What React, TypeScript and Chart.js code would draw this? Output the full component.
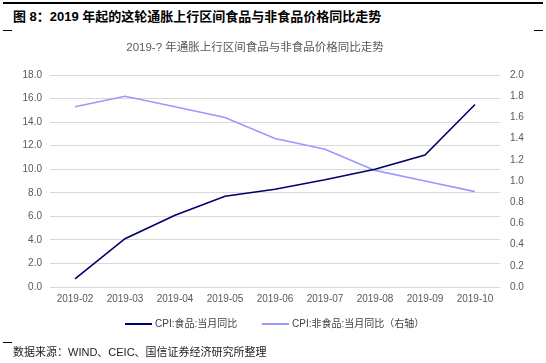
import React, { useEffect, useRef } from "react";
import { Chart, registerables } from "chart.js";

Chart.register(...registerables);

const categories = ["2019-02", "2019-03", "2019-04", "2019-05", "2019-06", "2019-07", "2019-08", "2019-09", "2019-10"];
const foodYoY = [0.7, 4.1, 6.1, 7.7, 8.3, 9.1, 10.0, 11.2, 15.5];
const nonFoodYoY = [1.7, 1.8, 1.7, 1.6, 1.4, 1.3, 1.1, 1.0, 0.9];
const foodLabel = "CPI:食品:当月同比";
const nonFoodLabel = "CPI:非食品:当月同比（右轴）";
const figureTitle = "图 8：2019 年起的这轮通胀上行区间食品与非食品价格同比走势";
const chartTitle = "2019-? 年通胀上行区间食品与非食品价格同比走势";
const sourceText = "数据来源：WIND、CEIC、国信证券经济研究所整理";

const FOOD_COLOR = "#00006e";
const NONFOOD_COLOR = "#9999ff";
const TICK_FONT = { family: "'Liberation Sans', Arial, sans-serif", size: 10 };
const CJK = "'Liberation Sans', 'Noto Sans CJK SC', sans-serif";

export default function App() {
  const ref = useRef<HTMLCanvasElement | null>(null);

  useEffect(() => {
    document.body.style.margin = "0";
    const canvas = ref.current;
    if (!canvas) return;
    const chart = new Chart(canvas, {
      type: "line",
      data: {
        labels: categories,
        datasets: [
          {
            label: foodLabel,
            data: foodYoY,
            borderColor: FOOD_COLOR,
            backgroundColor: FOOD_COLOR,
            borderWidth: 1.6,
            pointRadius: 0,
            tension: 0,
            yAxisID: "y",
          },
          {
            label: nonFoodLabel,
            data: nonFoodYoY,
            borderColor: NONFOOD_COLOR,
            backgroundColor: NONFOOD_COLOR,
            borderWidth: 1.6,
            pointRadius: 0,
            tension: 0,
            yAxisID: "y1",
          },
        ],
      },
      options: {
        responsive: false,
        animation: false,
        layout: { padding: { top: 75, bottom: 52, left: 0, right: 0 } },
        plugins: {
          legend: { display: false },
          title: { display: false },
          tooltip: { enabled: false },
        },
        scales: {
          x: {
            offset: true,
            grid: { display: false, drawTicks: false },
            border: { display: false },
            ticks: {
              font: TICK_FONT,
              color: "#595959",
              padding: 6,
              maxRotation: 0,
              autoSkip: false,
            },
            afterFit: (s: any) => {
              s.height = 24;
            },
          },
          y: {
            position: "left",
            min: 0,
            max: 18,
            grid: { color: "#d9d9d9", lineWidth: 1, drawTicks: false },
            border: { display: false },
            ticks: {
              stepSize: 2,
              font: TICK_FONT,
              color: "#595959",
              padding: 8,
              callback: (v: any) => Number(v).toFixed(1),
            },
            afterFit: (s: any) => {
              s.width = 50;
            },
          },
          y1: {
            position: "right",
            min: 0,
            max: 2,
            grid: { display: false, drawTicks: false },
            border: { display: false },
            ticks: {
              stepSize: 0.2,
              font: TICK_FONT,
              color: "#595959",
              padding: 10,
              callback: (v: any) => Number(v).toFixed(1),
            },
            afterFit: (s: any) => {
              s.width = 46;
            },
          },
        },
      },
    });
    return () => chart.destroy();
  }, []);

  const legendItem = (left: number, color: string, text: string) => (
    <div style={{ position: "absolute", left, top: 317, height: 14, display: "flex", alignItems: "center" }}>
      <div style={{ width: 27, height: 2, background: color, marginRight: 3 }} />
      <span style={{ fontFamily: CJK, fontSize: 10, color: "#404040", lineHeight: "14px", whiteSpace: "nowrap" }}>{text}</span>
    </div>
  );

  return (
    <div style={{ position: "absolute", left: 0, top: 0, width: 546, height: 363, background: "#fff", overflow: "hidden" }}>
      <div style={{ position: "absolute", left: 3, top: 2, width: 540, height: 1.5, background: "#000" }} />
      <div
        style={{
          position: "absolute",
          left: 13,
          top: 8,
          fontFamily: CJK,
          fontWeight: "bold",
          fontSize: 13,
          lineHeight: "18px",
          color: "#000",
          whiteSpace: "nowrap",
        }}
      >
        {figureTitle}
      </div>
      <div style={{ position: "absolute", left: 3, top: 30, width: 9, height: 1, background: "#000" }} />
      <div style={{ position: "absolute", left: 534, top: 30, width: 9, height: 1, background: "#000" }} />
      <canvas ref={ref} width={546} height={363} style={{ position: "absolute", left: 0, top: 0, width: 546, height: 363 }} />
      <div
        style={{
          position: "absolute",
          left: 0,
          width: 510,
          top: 39,
          textAlign: "center",
          fontFamily: CJK,
          fontSize: 11.5,
          lineHeight: "16px",
          color: "#595959",
          whiteSpace: "nowrap",
        }}
      >
        {chartTitle}
      </div>
      {legendItem(125, FOOD_COLOR, foodLabel)}
      {legendItem(262, NONFOOD_COLOR, nonFoodLabel)}
      <div style={{ position: "absolute", left: 3, top: 342, width: 9, height: 1, background: "#000" }} />
      <div
        style={{
          position: "absolute",
          left: 13,
          top: 345,
          fontFamily: CJK,
          fontSize: 11,
          lineHeight: "15px",
          color: "#222",
          whiteSpace: "nowrap",
        }}
      >
        {sourceText}
      </div>
    </div>
  );
}
